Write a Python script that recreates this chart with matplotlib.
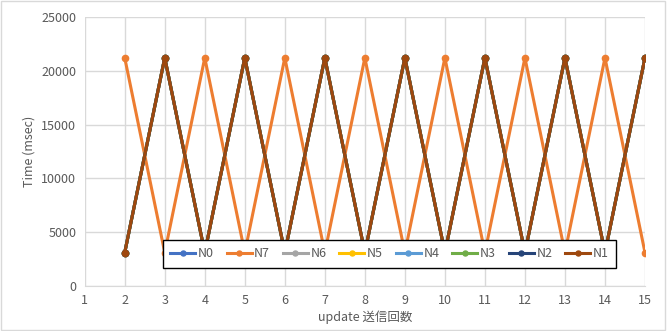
import numpy as np
import matplotlib.pyplot as plt
from matplotlib.patches import Rectangle

plt.rcParams['font.family'] = ['Noto Sans CJK JP', 'DejaVu Sans']

# update counts and timings per node
updates = np.arange(2, 16)
low, high = 3100, 21200
n7 = [high, low, high, low, high, low, high, low, high, low, high, low, high, low]
others = [low, high, low, high, low, high, low, high, low, high, low, high, low, high]

names = ['N0', 'N7', 'N6', 'N5', 'N4', 'N3', 'N2', 'N1']
colors = ['#4472C4', '#ED7D31', '#A5A5A5', '#FFC000', '#5B9BD5', '#70AD47', '#264478', '#9E480E']
series = {'N0': others, 'N7': n7, 'N6': others, 'N5': others,
          'N4': others, 'N3': others, 'N2': others, 'N1': others}

fig = plt.figure(figsize=(6.67, 3.31), dpi=100)
ax = fig.add_axes([0.127, 0.136, 0.84, 0.813])
fig.patches.append(Rectangle((0.002, 0.003), 0.995, 0.994, transform=fig.transFigure,
                             fill=False, edgecolor='#D9D9D9', lw=1))

for name, c in zip(names, colors):
    ax.plot(updates, series[name], color=c, lw=2.2, marker='o', ms=4.5, label=name)

ax.set_xlim(1, 15)
ax.set_ylim(0, 25000)
ax.set_xticks(range(1, 16))
ax.set_yticks(range(0, 25001, 5000))
ax.grid(True, color='#D9D9D9', lw=1)
ax.set_axisbelow(True)
for s in ['top', 'right', 'left']:
    ax.spines[s].set_visible(False)
ax.spines['bottom'].set_color('#D9D9D9')
ax.tick_params(length=0, colors='#595959', labelsize=9, pad=6)
ax.set_xlabel('update 送信回数', color='#595959', fontsize=9, labelpad=2)
ax.set_ylabel('Time (msec)', color='#595959', fontsize=9)

leg = ax.legend(ncol=8, loc='lower left', bbox_to_anchor=(0.139, 0.067, 0.81, 0.104),
                mode='expand', fontsize=9, frameon=True, fancybox=False,
                handlelength=2.0, handletextpad=0.2, columnspacing=0.8,
                borderaxespad=0, borderpad=0.6, markerscale=0.8)
leg.get_frame().set_edgecolor('black')
leg.get_frame().set_linewidth(1)
leg.get_frame().set_alpha(1)
for t in leg.get_texts():
    t.set_color('#595959')

fig.savefig('out.png', dpi=100)
